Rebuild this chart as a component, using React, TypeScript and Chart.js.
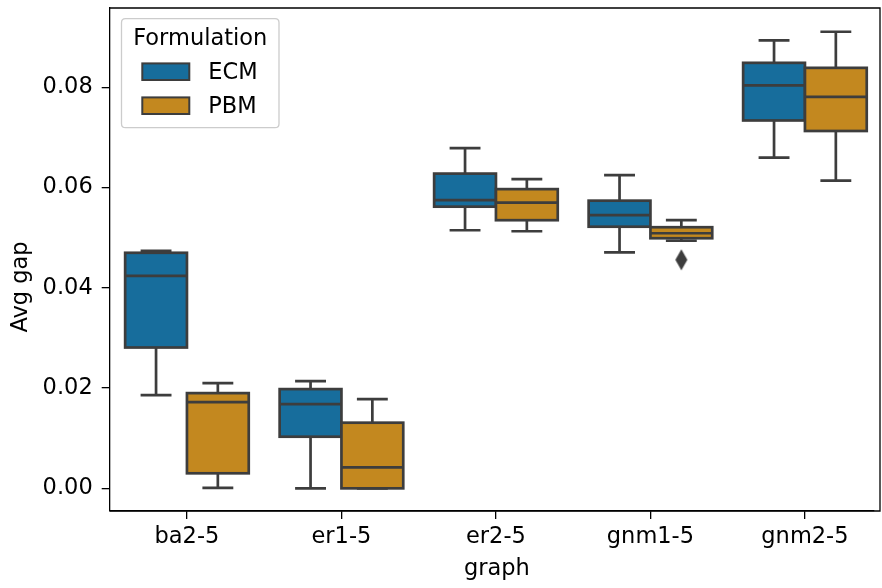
import React, { useEffect, useRef } from 'react';
import { Chart, registerables } from 'chart.js';

Chart.register(...registerables);

// ---- data ----
const categories = ['ba2-5', 'er1-5', 'er2-5', 'gnm1-5', 'gnm2-5'];
const seriesNames = ['ECM', 'PBM'];

const ecmLow = [0.0186, 0.0, 0.0515, 0.0471, 0.066];
const ecmQ1 = [0.0281, 0.0103, 0.0562, 0.0522, 0.0734];
const ecmMedian = [0.0424, 0.0168, 0.0575, 0.0545, 0.0804];
const ecmQ3 = [0.047, 0.0198, 0.0628, 0.0574, 0.0849];
const ecmHigh = [0.0474, 0.0214, 0.0679, 0.0625, 0.0894];

const pbmLow = [0.0001, 0.0, 0.0513, 0.0494, 0.0614];
const pbmQ1 = [0.003, 0.0, 0.0535, 0.0499, 0.0713];
const pbmMedian = [0.0172, 0.0042, 0.057, 0.0509, 0.0781];
const pbmQ3 = [0.019, 0.0131, 0.0597, 0.0521, 0.0839];
const pbmHigh = [0.021, 0.0178, 0.0617, 0.0535, 0.0911];

const outlierCategory = [3];
const outlierSeries = [1];
const outlierValues = [0.0456];

const yTicks = [0, 0.02, 0.04, 0.06, 0.08];

// ---- styles ----
const FONT = "'DejaVu Sans', sans-serif";
const FS = 22.5;
const COLORS = ['#176d9c', '#c3881f'];
const LINE = '#3d3d3d';
const LW = 2.7;
const BOX_W = 0.4;

const series = [
  { low: ecmLow, q1: ecmQ1, med: ecmMedian, q3: ecmQ3, high: ecmHigh },
  { low: pbmLow, q1: pbmQ1, med: pbmMedian, q3: pbmQ3, high: pbmHigh },
];

function makeDiamond(): HTMLCanvasElement {
  const c = document.createElement('canvas');
  c.width = 14;
  c.height = 22;
  const g = c.getContext('2d')!;
  g.fillStyle = LINE;
  g.beginPath();
  g.moveTo(7, 0.5);
  g.lineTo(13, 11);
  g.lineTo(7, 21.5);
  g.lineTo(1, 11);
  g.closePath();
  g.fill();
  return c;
}

const boxPlugin = {
  id: 'boxes',
  beforeDatasetsDraw(chart: any) {
    const { ctx, scales } = chart;
    const xs = scales.x;
    const ys = scales.y;
    ctx.save();
    series.forEach((s, si) => {
      categories.forEach((_, ci) => {
        const x0 = xs.getPixelForValue(ci - BOX_W + si * BOX_W);
        const x1 = xs.getPixelForValue(ci + si * BOX_W);
        const xc = (x0 + x1) / 2;
        const capHalf = (x1 - x0) / 4;
        const yLow = ys.getPixelForValue(s.low[ci]);
        const yQ1 = ys.getPixelForValue(s.q1[ci]);
        const yMed = ys.getPixelForValue(s.med[ci]);
        const yQ3 = ys.getPixelForValue(s.q3[ci]);
        const yHigh = ys.getPixelForValue(s.high[ci]);
        ctx.lineWidth = LW;
        ctx.strokeStyle = LINE;
        ctx.lineCap = 'butt';
        ctx.beginPath();
        ctx.moveTo(xc, yQ3);
        ctx.lineTo(xc, yHigh);
        ctx.moveTo(xc - capHalf, yHigh);
        ctx.lineTo(xc + capHalf, yHigh);
        ctx.moveTo(xc, yQ1);
        ctx.lineTo(xc, yLow);
        ctx.moveTo(xc - capHalf, yLow);
        ctx.lineTo(xc + capHalf, yLow);
        ctx.stroke();
        ctx.fillStyle = COLORS[si];
        ctx.fillRect(x0, yQ3, x1 - x0, yQ1 - yQ3);
        ctx.strokeRect(x0, yQ3, x1 - x0, yQ1 - yQ3);
        ctx.beginPath();
        ctx.moveTo(x0, yMed);
        ctx.lineTo(x1, yMed);
        ctx.stroke();
      });
    });
    ctx.restore();
  },
  afterDraw(chart: any) {
    const { ctx, chartArea } = chart;
    const right = chart.width - 2;
    ctx.save();
    // frame (top, right, and bottom extension)
    ctx.strokeStyle = '#000';
    ctx.lineWidth = 1.3;
    ctx.beginPath();
    ctx.moveTo(chartArea.left, chartArea.top);
    ctx.lineTo(right, chartArea.top);
    ctx.lineTo(right, chartArea.bottom);
    ctx.lineTo(chartArea.left, chartArea.bottom);
    ctx.stroke();

    ctx.fillStyle = '#000';
    ctx.font = `${FS}px ${FONT}`;
    ctx.textAlign = 'center';
    ctx.textBaseline = 'middle';
    ctx.fillText('graph', (chartArea.left + right) / 2 + 2, 569);
    ctx.save();
    ctx.translate(21, 287);
    ctx.rotate(-Math.PI / 2);
    ctx.fillText('Avg gap', 0, 0);
    ctx.restore();

    const lx = 121.5, ly = 18.7, lw = 157.5, lh = 109, r = 4;
    ctx.beginPath();
    ctx.moveTo(lx + r, ly);
    ctx.lineTo(lx + lw - r, ly);
    ctx.quadraticCurveTo(lx + lw, ly, lx + lw, ly + r);
    ctx.lineTo(lx + lw, ly + lh - r);
    ctx.quadraticCurveTo(lx + lw, ly + lh, lx + lw - r, ly + lh);
    ctx.lineTo(lx + r, ly + lh);
    ctx.quadraticCurveTo(lx, ly + lh, lx, ly + lh - r);
    ctx.lineTo(lx, ly + r);
    ctx.quadraticCurveTo(lx, ly, lx + r, ly);
    ctx.closePath();
    ctx.fillStyle = 'rgba(255,255,255,0.8)';
    ctx.fill();
    ctx.strokeStyle = '#cccccc';
    ctx.lineWidth = 1.3;
    ctx.stroke();

    ctx.fillStyle = '#000';
    ctx.textAlign = 'center';
    ctx.fillText('Formulation', lx + lw / 2, 39);
    seriesNames.forEach((name, i) => {
      const cy = 71.7 + i * 34;
      ctx.fillStyle = COLORS[i];
      ctx.fillRect(142.3, cy - 8.3, 47, 16.6);
      ctx.strokeStyle = LINE;
      ctx.lineWidth = 2;
      ctx.strokeRect(142.3, cy - 8.3, 47, 16.6);
      ctx.fillStyle = '#000';
      ctx.textAlign = 'left';
      ctx.fillText(name, 208.3, cy + 1);
    });
    ctx.restore();
  },
};

export default function App() {
  const ref = useRef<HTMLCanvasElement | null>(null);
  useEffect(() => {
    if (!ref.current) return;
    const font = { family: FONT, size: FS };
    const outlierData = outlierValues.map((v, i) => ({
      x: outlierCategory[i] + (outlierSeries[i] - 0.5) * BOX_W,
      y: v,
    }));
    const chart = new Chart(ref.current, {
      type: 'scatter',
      data: {
        datasets: [
          {
            label: 'outliers',
            data: outlierData,
            pointStyle: makeDiamond() as any,
            pointRadius: 7,
            backgroundColor: LINE,
            borderColor: LINE,
          },
        ],
      },
      options: {
        animation: false,
        responsive: false,
        devicePixelRatio: 1,
        layout: { padding: { top: 6.7, right: 0, left: 0, bottom: 0 } },
        plugins: { legend: { display: false }, tooltip: { enabled: false } },
        scales: {
          x: {
            type: 'linear',
            min: -0.5,
            max: 4.447,
            afterBuildTicks: (s: any) => {
              s.ticks = categories.map((_, i) => ({ value: i }));
            },
            afterFit: (s: any) => {
              s.height = 77;
              s.paddingLeft = 0;
              s.paddingRight = 0;
            },
            ticks: {
              callback: (v: any) => categories[Math.round(Number(v))],
              font,
              color: '#000',
              padding: 5,
              maxRotation: 0,
              autoSkip: false,
            },
            grid: { drawOnChartArea: false, drawTicks: true, tickLength: 8, color: '#000', lineWidth: 1.3 },
            border: { display: true, color: '#000', width: 1.3 },
          },
          y: {
            type: 'linear',
            min: -0.00452,
            max: 0.09584,
            afterBuildTicks: (s: any) => {
              s.ticks = yTicks.map((v) => ({ value: v }));
            },
            afterFit: (s: any) => {
              s.width = 109.7;
              s.paddingTop = 0;
              s.paddingBottom = 0;
            },
            ticks: {
              callback: (v: any) => Number(v).toFixed(2),
              font,
              color: '#000',
              padding: 9,
            },
            grid: { drawOnChartArea: false, drawTicks: true, tickLength: 8, color: '#000', lineWidth: 1.3 },
            border: { display: true, color: '#000', width: 1.3 },
          },
        },
      },
      plugins: [boxPlugin],
    });
    return () => chart.destroy();
  }, []);
  return (
    <div style={{ position: 'absolute', left: 0, top: 0, width: 882, height: 588, background: '#fff' }}>
      <canvas ref={ref} width={882} height={588} style={{ width: 882, height: 588, display: 'block' }} />
    </div>
  );
}
